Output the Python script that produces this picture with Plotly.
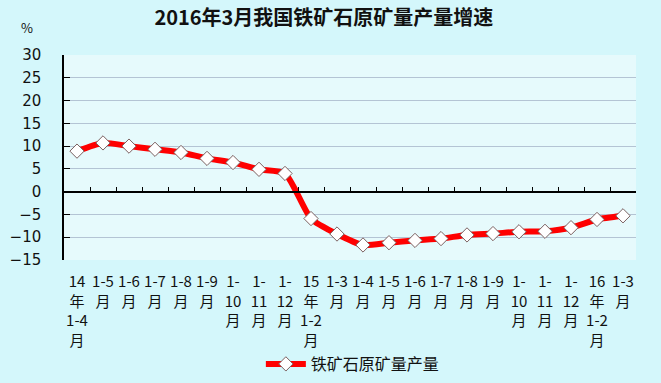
import plotly.graph_objects as go

title_text = "2016年3月我国铁矿石原矿量产量增速"
series_name = "铁矿石原矿量产量"
categories = [
    "14<br>年<br>1-4<br>月", "1-5<br>月", "1-6<br>月", "1-7<br>月", "1-8<br>月", "1-9<br>月",
    "1-<br>10<br>月", "1-<br>11<br>月", "1-<br>12<br>月",
    "15<br>年<br>1-2<br>月", "1-3<br>月", "1-4<br>月", "1-5<br>月", "1-6<br>月", "1-7<br>月",
    "1-8<br>月", "1-9<br>月", "1-<br>10<br>月", "1-<br>11<br>月", "1-<br>12<br>月",
    "16<br>年<br>1-2<br>月", "1-3<br>月",
]
cat_ids = list(range(len(categories)))
values = [8.9, 10.7, 10.0, 9.3, 8.6, 7.3, 6.4, 4.9, 4.0,
          -5.9, -9.3, -11.7, -11.2, -10.7, -10.3, -9.5, -9.2, -8.8, -8.7, -7.9, -6.1, -5.3]
y_ticks = [-15, -10, -5, 0, 5, 10, 15, 20, 25, 30]

font_cjk = "Noto Sans CJK SC, Noto Sans, sans-serif"

W, H = 661, 383
L, R, T, B = 64, 25, 55, 123
PH = H - T - B

fig = go.Figure()
fig.add_trace(go.Scatter(
    x=cat_ids, y=values, name=series_name, mode="lines+markers",
    line=dict(color="#ff0000", width=6, shape="spline", smoothing=0.6),
    marker=dict(symbol="diamond", size=11, color="white",
                line=dict(color="#7a6060", width=1)),
))
# invisible helper trace so the zero-crossing axis is drawn
fig.add_trace(go.Scatter(
    x=cat_ids, y=values, xaxis="x2", mode="lines",
    line=dict(width=0), showlegend=False, hoverinfo="skip", opacity=0,
))

fig.update_layout(
    width=W, height=H,
    margin=dict(l=L, r=R, t=T, b=B, autoexpand=False),
    paper_bgcolor="#d4f7fb",
    plot_bgcolor="#e6fafc",
    title=dict(text=title_text, x=0.49, xanchor="center", y=1 - 18 / H, yanchor="middle",
               font=dict(family=font_cjk, size=20, color="#111111", weight="bold")),
    showlegend=True,
    legend=dict(orientation="h", x=0.505, xanchor="center", yref="paper",
                y=-(364 - (H - B)) / PH, yanchor="middle",
                font=dict(family=font_cjk, size=16, color="#111111"),
                bgcolor="rgba(0,0,0,0)", itemwidth=40),
    xaxis=dict(
        type="linear", range=[-0.5, len(categories) - 0.5], automargin=False,
        tickmode="array", tickvals=cat_ids, ticktext=categories,
        tickangle=0, ticks="", showline=False, showgrid=False, zeroline=False,
        ticklabelstandoff=11,
        tickfont=dict(family=font_cjk, size=15, color="#111111"),
    ),
    xaxis2=dict(
        overlaying="x", anchor="free", position=1 / 3, matches="x",
        range=[-0.5, len(categories) - 0.5],
        showline=True, linecolor="black", linewidth=1.5,
        ticks="inside", ticklen=4, tickcolor="black",
        tickmode="array", tickvals=[i + 0.5 for i in cat_ids[:-1]],
        showticklabels=False, showgrid=False, zeroline=False,
    ),
    yaxis=dict(
        range=[-15, 30], tickmode="array", tickvals=y_ticks, automargin=False,
        showline=True, linecolor="black", linewidth=1.5,
        ticks="inside", ticklen=6, tickcolor="black",
        showgrid=True, gridcolor="#b4c4d4", gridwidth=1,
        zeroline=False, ticklabelstandoff=18,
        tickfont=dict(family="DejaVu Sans, sans-serif", size=15, color="#111111"),
    ),
    annotations=[dict(text="%", xref="paper", yref="paper", showarrow=False,
                      x=(27 - L) / (W - L - R), y=1 + (T - 28) / PH,
                      xanchor="center", yanchor="middle",
                      font=dict(family=font_cjk, size=13, color="#111111"))],
)

fig.write_html("out.html", config={"displayModeBar": False},
               post_script="document.body.style.margin='0';document.body.style.background='#d4f7fb';")
